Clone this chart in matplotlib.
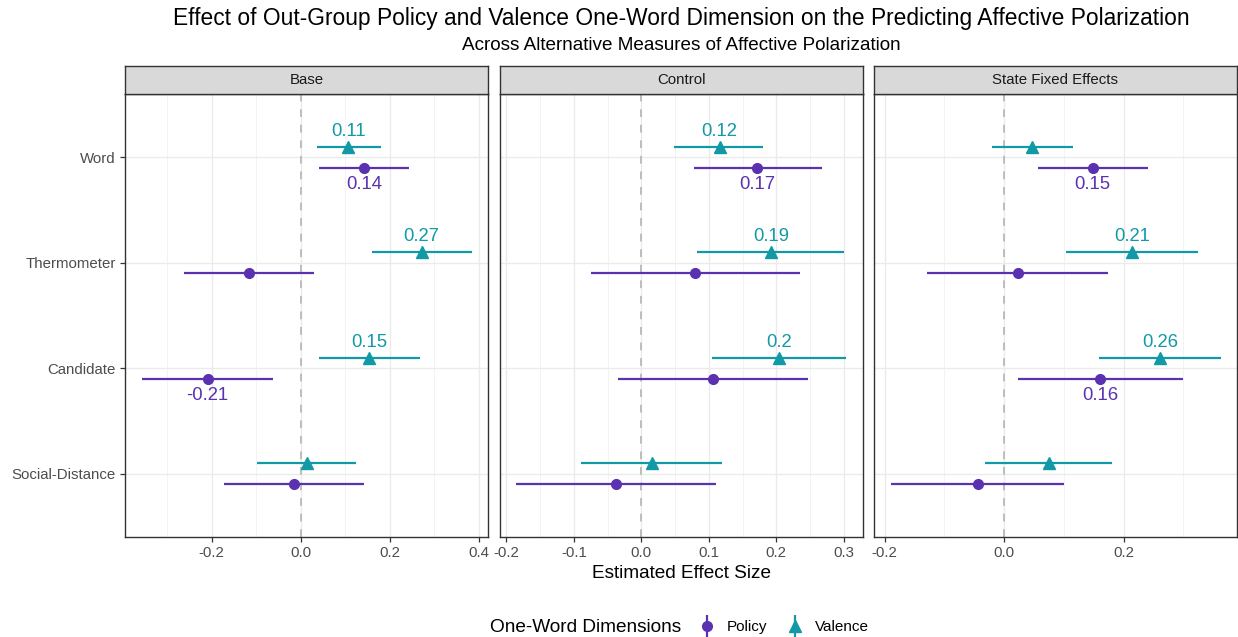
import matplotlib
matplotlib.use("Agg")
import matplotlib.pyplot as plt
from matplotlib.lines import Line2D
from matplotlib.legend_handler import HandlerTuple
import matplotlib.ticker as mticker
import numpy as np

plt.rcParams['font.family'] = ['Liberation Sans', 'DejaVu Sans']
plt.rcParams['axes.unicode_minus'] = False

# data
measures = ['Word', 'Thermometer', 'Candidate', 'Social-Distance']   # top to bottom
panels = ['Base', 'Control', 'State Fixed Effects']

policy_est = {'Base': [0.143, -0.117, -0.209, -0.015],
              'Control': [0.172, 0.080, 0.106, -0.037],
              'State Fixed Effects': [0.148, 0.023, 0.161, -0.044]}
policy_lo = {'Base': [0.042, -0.262, -0.357, -0.171],
             'Control': [0.078, -0.074, -0.035, -0.185],
             'State Fixed Effects': [0.056, -0.129, 0.024, -0.190]}
policy_hi = {'Base': [0.242, 0.030, -0.062, 0.143],
             'Control': [0.267, 0.235, 0.247, 0.111],
             'State Fixed Effects': [0.240, 0.173, 0.299, 0.101]}

valence_est = {'Base': [0.107, 0.271, 0.154, 0.014],
               'Control': [0.116, 0.192, 0.204, 0.016],
               'State Fixed Effects': [0.047, 0.214, 0.261, 0.075]}
valence_lo = {'Base': [0.037, 0.160, 0.041, -0.098],
              'Control': [0.049, 0.083, 0.105, -0.090],
              'State Fixed Effects': [-0.021, 0.104, 0.159, -0.032]}
valence_hi = {'Base': [0.180, 0.383, 0.268, 0.125],
              'Control': [0.181, 0.301, 0.304, 0.120],
              'State Fixed Effects': [0.115, 0.325, 0.362, 0.181]}

major_step = {'Base': 0.2, 'Control': 0.1, 'State Fixed Effects': 0.2}

col_policy = '#5A31B0'
col_valence = '#1199A6'

W, H = 1238, 637
fig = plt.figure(figsize=(W / 100, H / 100), dpi=100)

lefts = [125, 500, 874]
pw = 363
bottom, top = 537, 94
ypos = np.arange(len(measures), 0, -1)

def fx(px):
    return px / W

def fy(py):
    return (H - py) / H

for i, p in enumerate(panels):
    ax = fig.add_axes([fx(lefts[i]), fy(bottom), pw / W, (bottom - top) / H])
    ax.set_axisbelow(True)

    pe, pl, ph = map(np.array, (policy_est[p], policy_lo[p], policy_hi[p]))
    ve, vl, vh = map(np.array, (valence_est[p], valence_lo[p], valence_hi[p]))

    ax.axvline(0, color='#BDBDBD', ls=(0, (4, 4)), lw=1.4, zorder=1)
    ax.hlines(ypos - 0.1, pl, ph, color=col_policy, lw=1.6, zorder=3)
    ax.plot(pe, ypos - 0.1, 'o', color=col_policy, ms=7, zorder=4)
    ax.hlines(ypos + 0.1, vl, vh, color=col_valence, lw=1.6, zorder=3)
    ax.plot(ve, ypos + 0.1, '^', color=col_valence, ms=8, zorder=4)

    # labels only where the interval excludes zero
    for k in range(len(measures)):
        if pl[k] > 0 or ph[k] < 0:
            ax.annotate(f"{round(pe[k], 2):g}", (pe[k], ypos[k] - 0.1), xytext=(0, -12),
                        textcoords='offset points', ha='center', va='center',
                        color=col_policy, fontsize=13.3)
        if vl[k] > 0 or vh[k] < 0:
            ax.annotate(f"{round(ve[k], 2):g}", (ve[k], ypos[k] + 0.1), xytext=(0, 11),
                        textcoords='offset points', ha='center', va='center',
                        color=col_valence, fontsize=13.3)

    lo_all = min(pl.min(), vl.min())
    hi_all = max(ph.max(), vh.max())
    pad = (hi_all - lo_all) * 0.05
    ax.set_xlim(lo_all - pad, hi_all + pad)
    ax.set_ylim(0.4, len(measures) + 0.6)

    ax.xaxis.set_major_locator(mticker.MultipleLocator(major_step[p]))
    ax.xaxis.set_minor_locator(mticker.MultipleLocator(major_step[p] / 2))
    ax.xaxis.set_major_formatter(mticker.FormatStrFormatter('%.1f'))
    ax.grid(True, which='major', color='#EBEBEB', lw=1.0)
    ax.grid(True, which='minor', axis='x', color='#F3F3F3', lw=0.7)
    ax.tick_params(axis='x', which='minor', length=0)
    ax.tick_params(axis='both', which='major', length=3.5, width=0.9, color='#333333',
                   labelcolor='#4D4D4D', labelsize=10.8, pad=3)

    ax.set_yticks(ypos)
    if i == 0:
        ax.set_yticklabels(measures)
    else:
        ax.set_yticklabels([])
        ax.tick_params(axis='y', length=0)
    for s in ax.spines.values():
        s.set_color('#333333')
        s.set_linewidth(1.0)

    # facet strip
    sax = fig.add_axes([fx(lefts[i]), fy(top), pw / W, 28 / H])
    sax.set_facecolor('#D9D9D9')
    sax.set_xticks([])
    sax.set_yticks([])
    for s in sax.spines.values():
        s.set_color('#333333')
        s.set_linewidth(1.0)
    sax.text(0.5, 0.5, p, ha='center', va='center', fontsize=10.8, color='#1A1A1A',
             transform=sax.transAxes)

cx = fx((lefts[0] + lefts[-1] + pw) / 2)
fig.text(cx, fy(18), 'Effect of Out-Group Policy and Valence One-Word Dimension on the Predicting Affective Polarization',
         ha='center', va='center', fontsize=16.4)
fig.text(cx, fy(46), 'Across Alternative Measures of Affective Polarization',
         ha='center', va='center', fontsize=13.6)
fig.text(cx, fy(573), 'Estimated Effect Size', ha='center', va='center', fontsize=13.7)

# legend
fig.text(fx(490), fy(627), 'One-Word Dimensions', ha='left', va='center', fontsize=13.7)
h_pol = (Line2D([], [], marker='|', ls='none', color=col_policy, ms=16, mew=1.6),
         Line2D([], [], marker='o', ls='none', color=col_policy, ms=7))
h_val = (Line2D([], [], marker='|', ls='none', color=col_valence, ms=16, mew=1.6),
         Line2D([], [], marker='^', ls='none', color=col_valence, ms=8))
fig.legend([h_pol, h_val], ['Policy', 'Valence'], handler_map={tuple: HandlerTuple(ndivide=1, pad=0)},
           loc='center left', bbox_to_anchor=(fx(681), fy(627)), ncol=2, frameon=False,
           fontsize=11, handlelength=1.6, handletextpad=0.5, columnspacing=1.0)

fig.savefig('out.png', dpi=100)
